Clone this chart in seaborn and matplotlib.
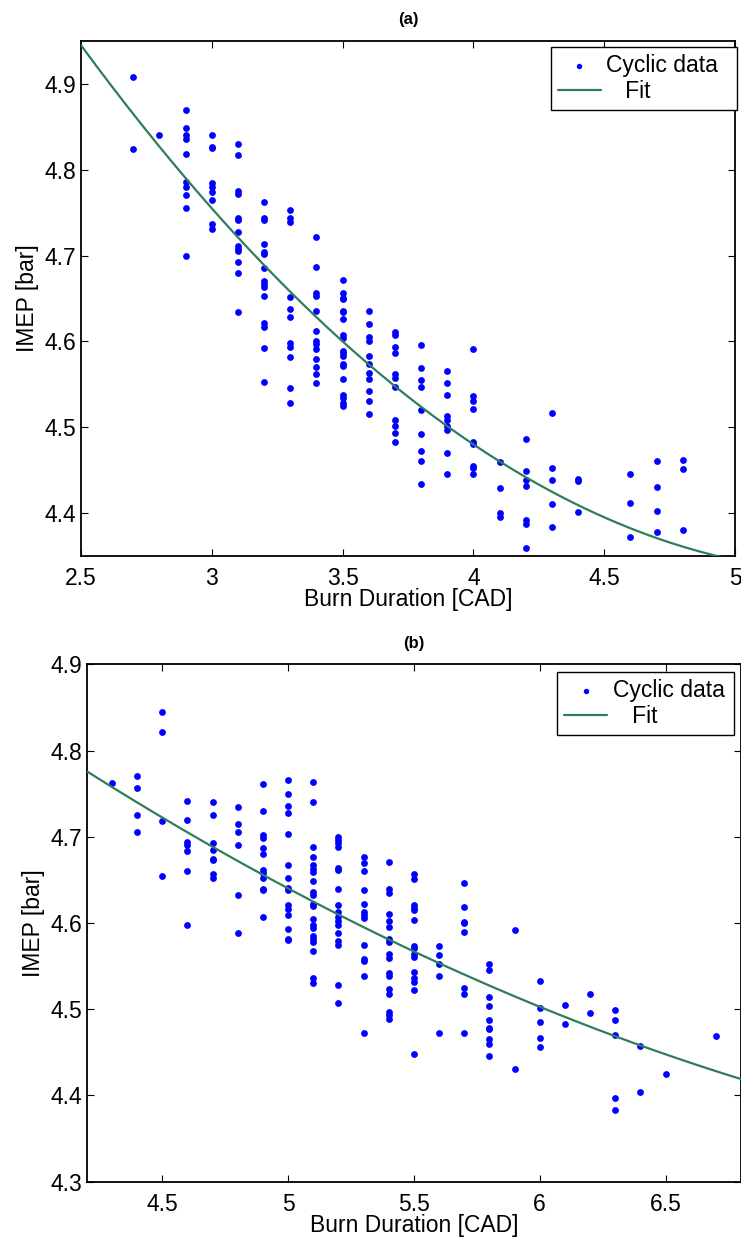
import numpy as np
import pandas as pd
import matplotlib
matplotlib.use("Agg")
import matplotlib.pyplot as plt
import seaborn as sns

# ---------------- data: panel (a) ----------------
a_burn = [2.7, 2.8, 2.9, 3.0, 3.1, 3.2, 3.3, 3.4, 3.5, 3.6, 3.7, 3.8, 3.9, 4.0,
          4.1, 4.2, 4.3, 4.4, 4.6, 4.7, 4.8]
a_imep = [
    [4.908, 4.824],
    [4.841],
    [4.870, 4.849, 4.841, 4.836, 4.818, 4.786, 4.780, 4.771, 4.756, 4.699],
    [4.841, 4.827, 4.825, 4.785, 4.780, 4.774, 4.765, 4.737, 4.731],
    [4.830, 4.817, 4.775, 4.772, 4.744, 4.742, 4.727, 4.711, 4.708, 4.705, 4.693, 4.680, 4.634],
    [4.763, 4.744, 4.741, 4.714, 4.704, 4.702, 4.685, 4.670, 4.667, 4.663, 4.653, 4.622, 4.617, 4.592, 4.553],
    [4.753, 4.744, 4.739, 4.652, 4.638, 4.629, 4.598, 4.594, 4.582, 4.546, 4.528],
    [4.722, 4.687, 4.656, 4.653, 4.636, 4.612, 4.600, 4.597, 4.591, 4.579, 4.570, 4.562, 4.552],
    [4.671, 4.656, 4.650, 4.649, 4.636, 4.634, 4.626, 4.607, 4.604, 4.589, 4.586, 4.583, 4.574,
     4.571, 4.556, 4.538, 4.534, 4.528, 4.525],
    [4.636, 4.620, 4.605, 4.601, 4.583, 4.574, 4.563, 4.556, 4.542, 4.530, 4.516],
    [4.611, 4.608, 4.593, 4.587, 4.562, 4.557, 4.547, 4.508, 4.501, 4.493, 4.483],
    [4.596, 4.569, 4.555, 4.547, 4.520, 4.492, 4.472, 4.461, 4.434],
    [4.565, 4.551, 4.538, 4.513, 4.508, 4.501, 4.497, 4.470, 4.446],
    [4.591, 4.536, 4.530, 4.521, 4.483, 4.480, 4.455, 4.452, 4.445],
    [4.460, 4.429, 4.400, 4.395],
    [4.486, 4.449, 4.439, 4.431, 4.392, 4.387, 4.359],
    [4.517, 4.453, 4.439, 4.410, 4.384],
    [4.440, 4.437, 4.401],
    [4.445, 4.412, 4.372],
    [4.461, 4.430, 4.402, 4.378],
    [4.462, 4.451, 4.380],
]
# quadratic fit: y = c0 + c1*(x-xc) + c2*(x-xc)^2
a_fit_center = 3.5
a_fit_coef = [4.600, -0.2750, 0.0701]

# ---------------- data: panel (b) ----------------
b_burn = [4.3, 4.4, 4.5, 4.6, 4.7, 4.8, 4.9, 5.0, 5.1, 5.2, 5.3, 5.4, 5.5, 5.6,
          5.7, 5.8, 5.9, 6.0, 6.1, 6.2, 6.3, 6.4, 6.5, 6.7]
b_imep = [
    [4.762],
    [4.770, 4.757, 4.725, 4.705],
    [4.845, 4.821, 4.718, 4.655],
    [4.742, 4.720, 4.694, 4.691, 4.683, 4.660, 4.598],
    [4.740, 4.725, 4.693, 4.685, 4.674, 4.673, 4.657, 4.652],
    [4.734, 4.715, 4.705, 4.690, 4.633, 4.588],
    [4.761, 4.730, 4.702, 4.698, 4.687, 4.680, 4.662, 4.658, 4.652, 4.640, 4.638, 4.607],
    [4.766, 4.750, 4.736, 4.727, 4.703, 4.667, 4.652, 4.641, 4.638, 4.621, 4.616, 4.609,
     4.593, 4.582, 4.580],
    [4.763, 4.740, 4.688, 4.676, 4.667, 4.663, 4.659, 4.649, 4.636, 4.633, 4.622, 4.620,
     4.605, 4.598, 4.594, 4.585, 4.582, 4.578, 4.568, 4.536, 4.530],
    [4.700, 4.696, 4.693, 4.688, 4.664, 4.662, 4.640, 4.621, 4.613, 4.607, 4.602, 4.598,
     4.588, 4.579, 4.575, 4.528, 4.507],
    [4.676, 4.670, 4.660, 4.638, 4.622, 4.613, 4.609, 4.606, 4.574, 4.558, 4.556, 4.539, 4.472],
    [4.671, 4.640, 4.635, 4.610, 4.602, 4.595, 4.581, 4.578, 4.564, 4.559, 4.542, 4.539,
     4.523, 4.518, 4.497, 4.493, 4.489],
    [4.657, 4.651, 4.621, 4.617, 4.615, 4.604, 4.573, 4.571, 4.564, 4.561, 4.543, 4.536,
     4.532, 4.522, 4.448],
    [4.573, 4.563, 4.552, 4.538, 4.473],
    [4.646, 4.618, 4.601, 4.600, 4.590, 4.525, 4.518, 4.473],
    [4.552, 4.546, 4.514, 4.504, 4.488, 4.478, 4.477, 4.465, 4.460, 4.446],
    [4.592, 4.431],
    [4.533, 4.501, 4.485, 4.467, 4.456],
    [4.505, 4.483],
    [4.518, 4.496],
    [4.499, 4.488, 4.470, 4.397, 4.383],
    [4.457, 4.404],
    [4.425],
    [4.469],
]
b_fit_center = 5.5
b_fit_coef = [4.567, -0.1373, 0.01805]

a_xticks = [2.5, 3, 3.5, 4, 4.5, 5]
a_xticklabels = ["2.5", "3", "3.5", "4", "4.5", "5"]
a_yticks = [4.4, 4.5, 4.6, 4.7, 4.8, 4.9]
b_xticks = [4.5, 5, 5.5, 6, 6.5]
b_xticklabels = ["4.5", "5", "5.5", "6", "6.5"]
b_yticks = [4.3, 4.4, 4.5, 4.6, 4.7, 4.8, 4.9]

titles = ["(a)", "(b)"]
xlabel = "Burn Duration [CAD]"
ylabel = "IMEP [bar]"


def expand(burn, imep):
    xs, ys = [], []
    for x, col in zip(burn, imep):
        xs += [x] * len(col)
        ys += col
    return pd.DataFrame({"burn": xs, "imep": ys})


def fit_frame(center, coef, lo, hi):
    xx = np.linspace(lo, hi, 300)
    d = xx - center
    yy = coef[0] + coef[1] * d + coef[2] * d ** 2
    return pd.DataFrame({"burn": xx, "imep": yy})


sns.set_theme(style="ticks")
plt.rcParams["font.family"] = ["Liberation Sans", "DejaVu Sans"]
plt.rcParams["xtick.direction"] = "in"
plt.rcParams["ytick.direction"] = "in"
plt.rcParams["text.color"] = "black"
plt.rcParams["axes.labelcolor"] = "black"
plt.rcParams["axes.titlecolor"] = "black"
plt.rcParams["legend.labelcolor"] = "black"

fig = plt.figure(figsize=(7.41, 12.39), dpi=100)
ax_a = fig.add_axes([81 / 741, 1 - 556 / 1239, (735 - 81) / 741, (556 - 41) / 1239])
ax_b = fig.add_axes([86.7 / 741, 1 - 1181.7 / 1239, (741 - 86.7) / 741, (1181.7 - 664.3) / 1239])

# legend boxes in axes fraction: (left, top, width)
panels = [
    (ax_a, a_burn, a_imep, a_fit_center, a_fit_coef, (2.5, 5.0), (4.35, 4.95),
     a_xticks, a_xticklabels, a_yticks, (0.7187, 0.988, 0.2844)),
    (ax_b, b_burn, b_imep, b_fit_center, b_fit_coef, (4.2, 6.8), (4.3, 4.9),
     b_xticks, b_xticklabels, b_yticks, (0.7192, 0.9845, 0.2705)),
]

blue = "#0000ff"
green = "#2e7d5b"
FS = 16.5

for i, (ax, burn, imep, fc, coef, xl, yl, xt, xtl, yt, lbox) in enumerate(panels):
    df = expand(burn, imep)
    fit = fit_frame(fc, coef, xl[0], xl[1])
    sns.scatterplot(data=df, x="burn", y="imep", ax=ax, color=blue, s=24,
                    linewidth=0, label="Cyclic data", zorder=3)
    sns.lineplot(data=fit, x="burn", y="imep", ax=ax, color=green, linewidth=1.6,
                 label="   Fit", zorder=4)
    ax.set_xlim(*xl)
    ax.set_ylim(*yl)
    ax.set_xticks(xt)
    ax.set_xticklabels(xtl)
    ax.set_yticks(yt)
    ax.set_yticklabels([f"{v:.1f}" for v in yt])
    ax.tick_params(axis="both", which="both", direction="in", length=5, width=0.8,
                   top=True, right=True, labelsize=FS, colors="black")
    ax.tick_params(axis="x", pad=8)
    ax.tick_params(axis="y", pad=3.5)
    for sp in ax.spines.values():
        sp.set_visible(True)
        sp.set_color("black")
        sp.set_linewidth(1.3)
    ax.set_xlabel(xlabel, fontsize=FS, labelpad=-1.5, color="black")
    ax.set_ylabel(ylabel, fontsize=FS, labelpad=4, color="black")
    ax.set_title(titles[i], fontsize=12, fontweight="bold", pad=12, color="black")
    ax.grid(False)
    left, top, width = lbox
    leg = ax.legend(loc="upper left", bbox_to_anchor=(left, top - 0.2, width, 0.2),
                    mode="expand", borderaxespad=0,
                    fontsize=FS, frameon=True, fancybox=False, framealpha=1,
                    edgecolor="black", handlelength=1.87, handletextpad=0.25,
                    borderpad=0.3, labelspacing=0.12, markerscale=0.8,
                    labelcolor="black")
    leg.get_frame().set_linewidth(1.0)

fig.savefig("out.png", dpi=100)
